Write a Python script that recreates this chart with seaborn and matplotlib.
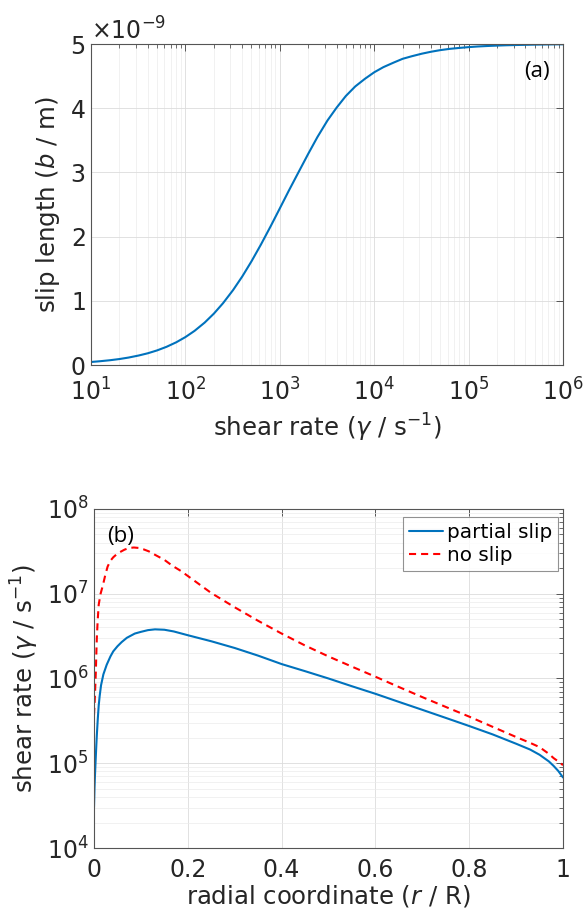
import numpy as np
import pandas as pd
import matplotlib
matplotlib.use("Agg")
import matplotlib.pyplot as plt
from matplotlib.ticker import LogLocator, NullFormatter, ScalarFormatter, FixedLocator
import seaborn as sns

# (a) slip length versus shear rate
shear_rate_a = [10, 12.5, 16, 20, 25, 32, 40, 50, 63, 80,
                100, 125, 160, 200, 250, 320, 400, 500, 630, 800,
                1000, 1250, 1600, 2000, 2500, 3200, 4000, 5000, 6300, 8000,
                1e4, 1.25e4, 1.6e4, 2e4, 2.5e4, 3.2e4, 4e4, 5e4, 6.3e4, 8e4,
                1e5, 1.25e5, 1.6e5, 2e5, 2.5e5, 3.2e5, 4e5, 5e5, 6.3e5, 8e5, 1e6]
slip_length_nm = [0.047, 0.059, 0.075, 0.093, 0.116, 0.148, 0.183, 0.227, 0.283, 0.354,
                  0.435, 0.532, 0.661, 0.80, 0.962, 1.168, 1.379, 1.613, 1.875, 2.162,
                  2.44, 2.72, 3.02, 3.29, 3.55, 3.81, 4.01, 4.19, 4.34, 4.46,
                  4.56, 4.64, 4.71, 4.77, 4.81, 4.85, 4.88, 4.905, 4.925, 4.94,
                  4.952, 4.962, 4.97, 4.976, 4.981, 4.985, 4.988, 4.991, 4.993, 4.995, 4.996]

# (b) shear rate across the channel radius
r_partial = [0, 0.001, 0.002, 0.003, 0.004, 0.005, 0.006, 0.008, 0.010, 0.012,
             0.015, 0.02, 0.027, 0.035, 0.041, 0.05, 0.059, 0.07, 0.087, 0.1,
             0.115, 0.13, 0.15, 0.17, 0.2, 0.25, 0.3, 0.35, 0.4, 0.45,
             0.5, 0.55, 0.6, 0.65, 0.7, 0.75, 0.8, 0.85, 0.9, 0.93,
             0.95, 0.97, 0.98, 0.99, 1.0]
rate_partial = [3.02e4, 5.0e4, 7.1e4, 9.5e4, 1.26e5, 1.66e5, 2.14e5, 3.31e5, 4.79e5, 6.17e5,
                8.32e5, 1.12e6, 1.45e6, 1.82e6, 2.09e6, 2.40e6, 2.69e6, 3.02e6, 3.39e6, 3.55e6,
                3.72e6, 3.80e6, 3.76e6, 3.59e6, 3.24e6, 2.75e6, 2.29e6, 1.86e6, 1.48e6, 1.22e6,
                1.0e6, 8.1e5, 6.6e5, 5.3e5, 4.27e5, 3.43e5, 2.75e5, 2.19e5, 1.70e5, 1.45e5,
                1.26e5, 1.05e5, 9.3e4, 8.1e4, 6.8e4]
r_noslip = [0, 0.001, 0.002, 0.003, 0.004, 0.005, 0.006, 0.008, 0.010, 0.014,
            0.019, 0.024, 0.029, 0.035, 0.041, 0.047, 0.055, 0.065, 0.075, 0.085,
            0.095, 0.105, 0.117, 0.13, 0.15, 0.167, 0.185, 0.2, 0.25, 0.3,
            0.35, 0.4, 0.45, 0.5, 0.55, 0.6, 0.65, 0.7, 0.75, 0.8,
            0.85, 0.9, 0.93, 0.95, 0.97, 0.98, 0.99, 1.0]
rate_noslip = [3.72e5, 4.79e5, 6.31e5, 8.91e5, 1.26e6, 2.0e6, 3.02e6, 5.01e6, 7.41e6, 1.0e7,
               1.26e7, 1.66e7, 2.09e7, 2.45e7, 2.69e7, 2.88e7, 3.09e7, 3.31e7, 3.47e7, 3.51e7,
               3.47e7, 3.35e7, 3.16e7, 2.88e7, 2.51e7, 2.14e7, 1.86e7, 1.62e7, 1.02e7, 6.92e6,
               4.79e6, 3.39e6, 2.45e6, 1.82e6, 1.38e6, 1.05e6, 7.94e5, 6.03e5, 4.62e5, 3.55e5,
               2.69e5, 2.04e5, 1.74e5, 1.55e5, 1.29e5, 1.15e5, 1.05e5, 9.5e4]

x_ticks_b = [0, 0.2, 0.4, 0.6, 0.8, 1]
x_ticklabels_b = ["0", "0.2", "0.4", "0.6", "0.8", "1"]
legend_labels = ["partial slip", "no slip"]

sns.set_theme(style="white")
plt.rcParams["font.family"] = ["DejaVu Sans"]
plt.rcParams["mathtext.fontset"] = "dejavusans"

BLUE = "#0072BD"
RED = "#FF0000"
TEXT = "#262626"
SPINE = "#555555"
TICK_SIZE = 17
LABEL_SIZE = 17.6
PANEL_SIZE = 16

fig = plt.figure(figsize=(5.85, 9.1), dpi=100)
ax1 = fig.add_axes([0.1556, 0.5989, 0.8068, 0.3527])
ax2 = fig.add_axes([0.1607, 0.0681, 0.8017, 0.3726])


def style_axes(ax, xpad):
    for s in ax.spines.values():
        s.set_visible(True)
        s.set_color(SPINE)
        s.set_linewidth(0.8)
    ax.tick_params(which="both", direction="in", top=True, right=True,
                   colors=SPINE, labelcolor=TEXT, labelsize=TICK_SIZE)
    ax.tick_params(which="major", length=5, width=0.7)
    ax.tick_params(which="minor", length=3, width=0.6)
    ax.tick_params(axis="x", which="major", pad=xpad)
    ax.tick_params(axis="y", which="major", pad=4)
    ax.set_axisbelow(True)


# ---- panel (a)
df_a = pd.DataFrame({"rate": shear_rate_a,
                     "b": np.array(slip_length_nm) * 1e-9})
sns.lineplot(data=df_a, x="rate", y="b", ax=ax1, color=BLUE, linewidth=1.5)
ax1.set_xscale("log")
ax1.set_xlim(10, 1e6)
ax1.set_ylim(0, 5e-9)
ax1.yaxis.set_major_locator(FixedLocator(np.arange(0, 6) * 1e-9))
fmt = ScalarFormatter(useMathText=True)
fmt.set_powerlimits((0, 0))
ax1.yaxis.set_major_formatter(fmt)
ax1.xaxis.set_minor_locator(LogLocator(base=10, subs=np.arange(2, 10), numticks=20))
ax1.xaxis.set_minor_formatter(NullFormatter())
style_axes(ax1, xpad=10)
ax1.yaxis.get_offset_text().set_fontsize(TICK_SIZE)
ax1.yaxis.get_offset_text().set_color(TEXT)
ax1.grid(True, which="major", color="#dcdcdc", linewidth=0.6)
ax1.grid(True, which="minor", axis="x", color="#ebebeb", linewidth=0.5)
ax1.set_xlabel(r"shear rate ($\gamma$ / s$^{\mathregular{-1}}$)", fontsize=LABEL_SIZE,
               color=TEXT, labelpad=4)
ax1.set_ylabel(r"slip length ($\it{b}$ / m)", fontsize=LABEL_SIZE, color=TEXT,
               labelpad=6)
ax1.text(0.945, 0.914, "(a)", transform=ax1.transAxes, ha="center",
         va="center", fontsize=PANEL_SIZE, color="black", family=["Open Sans"])

# ---- panel (b)
df_p = pd.DataFrame({"r": r_partial, "rate": rate_partial})
df_n = pd.DataFrame({"r": r_noslip, "rate": rate_noslip})
sns.lineplot(data=df_p, x="r", y="rate", ax=ax2, color=BLUE, linewidth=1.5,
             label=legend_labels[0])
sns.lineplot(data=df_n, x="r", y="rate", ax=ax2, color=RED, linewidth=1.5,
             label=legend_labels[1])
ax2.lines[1].set_dashes((3.4, 2.4))
ax2.set_yscale("log")
ax2.set_xlim(0, 1)
ax2.set_ylim(1e4, 1e8)
ax2.set_xticks(x_ticks_b)
ax2.set_xticklabels(x_ticklabels_b)
ax2.yaxis.set_major_locator(LogLocator(base=10, numticks=10))
ax2.yaxis.set_minor_locator(LogLocator(base=10, subs=np.arange(2, 10), numticks=20))
ax2.yaxis.set_minor_formatter(NullFormatter())
style_axes(ax2, xpad=7)
ax2.grid(True, which="major", color="#dcdcdc", linewidth=0.6)
ax2.grid(True, which="minor", axis="y", color="#ebebeb", linewidth=0.5)
ax2.set_xlabel(r"radial coordinate ($\it{r}$ / R)", fontsize=LABEL_SIZE, color=TEXT,
               labelpad=1)
ax2.set_ylabel(r"shear rate ($\gamma$ / s$^{\mathregular{-1}}$)", fontsize=LABEL_SIZE,
               color=TEXT, labelpad=4)
ax2.text(0.057, 0.92, "(b)", transform=ax2.transAxes, ha="center",
         va="center", fontsize=PANEL_SIZE, color="black", family=["Open Sans"])
leg = ax2.legend(loc="upper right", bbox_to_anchor=(0.99, 0.975),
                 borderaxespad=0, fontsize=14.4, frameon=True, fancybox=False,
                 handlelength=1.7, handletextpad=0.2, borderpad=0.3,
                 labelspacing=0.2)
leg.get_frame().set_edgecolor("#777777")
leg.get_frame().set_linewidth(0.8)
for t in leg.get_texts():
    t.set_color("black")
leg.get_lines()[1].set_dashes((3.4, 2.4))

fig.savefig("out.png", dpi=100)
